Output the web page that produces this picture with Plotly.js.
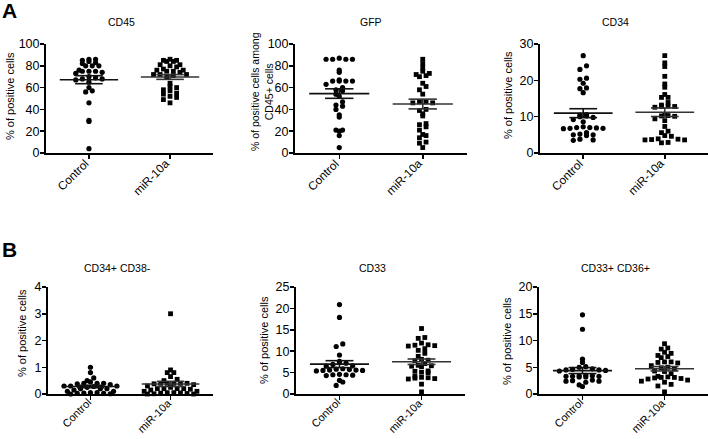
<!DOCTYPE html>
<html>
<head>
<meta charset="utf-8">
<script src="https://cdn.plot.ly/plotly-3.0.1.min.js"></script>
<style>
  body { margin: 0; background: #fff; }
  #chart { width: 708px; height: 439px; }
</style>
</head>
<body>
<div id="chart"></div>
<script>
// groups and panel labels
var groups = ['Control', 'miR-10a'];
var panelTitles = ['CD45', 'GFP', 'CD34', 'CD34+ CD38-', 'CD33', 'CD33+ CD36+'];
var yTitles = ['% of positive cells', '% of positive cells among<br>CD45+ cells', '% of positive cells',
               '% of positive cells', '% of positive cells', '% of positive cells'];
var yMax = [100, 100, 30, 4, 25, 20];
var yStep = [20, 20, 10, 1, 5, 5];

// values (% of positive cells)
var cd45Control = [86, 86, 84, 85, 83, 82, 80, 80, 80, 76, 75, 75, 75, 74, 73, 70, 69, 68, 68, 67, 65, 60, 57, 56, 46, 30, 29, 4];
var cd45Mir = [86, 85, 85, 84, 84, 81, 81, 80, 79, 77, 76, 76, 75, 75, 74, 72, 72, 72, 71, 70, 64, 61, 60, 58, 57, 55, 54, 52, 51, 49, 46];
var gfpControl = [87, 86, 86, 86, 86, 76, 74, 67, 66, 66, 66, 66, 63, 60, 58, 57, 54, 52, 47, 44, 43, 40, 35, 33, 21, 21, 20, 16, 5];
var gfpMir = [86, 82, 78, 75, 73, 72, 71, 70, 64, 61, 58, 54, 47, 47, 46, 46, 40, 39, 36, 34, 27, 26, 24, 21, 17, 16, 14, 10, 9, 5];
var cd34Control = [26.8, 24, 23, 20.6, 20.3, 19.2, 17.9, 17.7, 16.6, 10.6, 10.4, 10.2, 10, 9.8, 9.2, 8.6, 7.2, 7, 7, 6.9, 6.8, 6.8, 6.7, 5.6, 5.2, 5, 5, 4.8, 3.8, 3.6, 3.5];
var cd34Mir = [26.8, 24.8, 23.8, 21.1, 19, 18.1, 16.1, 15.3, 15.3, 13.9, 13.2, 12.9, 12.8, 12.8, 12.6, 10.4, 10.2, 10.1, 10.3, 9.4, 8.9, 7.3, 6, 5.6, 4.8, 4.6, 3.8, 3.6, 3.7, 3.6, 3.9, 2.9, 2.8];
var cd38Control = [1.0, 0.8, 0.6, 0.5, 0.45, 0.4, 0.4, 0.4, 0.38, 0.35, 0.3, 0.3, 0.3, 0.28, 0.25, 0.2, 0.2, 0.2, 0.15, 0.1, 0.1, 0.05, 0.05, 0.03, 0.02, 0.02, 0.01, 0.0];
var cd38Mir = [3.0, 0.9, 0.8, 0.8, 0.65, 0.55, 0.5, 0.4, 0.4, 0.4, 0.4, 0.4, 0.38, 0.35, 0.3, 0.25, 0.2, 0.2, 0.2, 0.2, 0.18, 0.15, 0.1, 0.1, 0.05, 0.05, 0.04, 0.03, 0.02, 0.01, 0.0, 0.0];
var cd33Control = [20.9, 17.9, 11.7, 11.1, 9.1, 7.6, 7.5, 7.2, 6.9, 6.6, 6.5, 5.9, 5.8, 5.7, 5.6, 5.6, 5.5, 5.5, 5.4, 4.6, 4.5, 4.5, 4.4, 4.3, 3.2, 2.8, 2.0];
var cd33Mir = [15.3, 13.2, 13.0, 11.9, 11.5, 11.4, 11.3, 11.2, 10.6, 10.2, 9.5, 8.8, 8.1, 7.9, 7.8, 7.1, 6.7, 6.6, 6.5, 6.4, 5.4, 5.3, 5.1, 5.0, 4.1, 3.9, 3.8, 3.7, 3.6, 3.5, 2.3, 0.5];
var cd36Control = [14.8, 12.1, 6.5, 5.9, 5.1, 5.0, 4.7, 4.6, 4.5, 4.5, 4.4, 4.3, 3.5, 3.4, 3.4, 3.3, 3.3, 3.3, 3.2, 3.2, 2.6, 2.5, 2.4, 2.4, 2.2, 1.7, 1.4];
var cd36Mir = [9.4, 8.6, 8.4, 7.8, 7.6, 7.2, 7.0, 6.8, 6.0, 6.0, 5.9, 5.8, 5.3, 5.0, 4.9, 4.7, 4.3, 4.2, 3.8, 3.3, 3.2, 3.1, 3.1, 3.0, 2.9, 2.8, 2.6, 2.4, 2.2, 1.8, 1.5, 0.4];

var panelData = [
  [cd45Control, cd45Mir], [gfpControl, gfpMir], [cd34Control, cd34Mir],
  [cd38Control, cd38Mir], [cd33Control, cd33Mir], [cd36Control, cd36Mir]
];

// plot boxes in pixels: [left, right, top, bottom]
var W = 708, H = 439;
var boxes = [
  [46, 213, 44, 153], [295, 467, 44, 153], [540, 708, 44, 153],
  [48, 213, 287, 394], [296, 465, 287, 394], [539, 708, 287, 394]
];
var xRange = [0.47, 2.53];
var font = 'Arial, "Liberation Sans", sans-serif';

// GraphPad style rows: points that fall in the same row are spread evenly about the centre
function rows(vals, pxY, pxX, rowH, gap) {
  var bins = {};
  vals.forEach(function (v, i) {
    var k = Math.round(v * pxY / rowH);
    (bins[k] = bins[k] || []).push(i);
  });
  var xs = new Array(vals.length);
  Object.keys(bins).forEach(function (k) {
    var idx = bins[k].sort(function (a, b) { return vals[a] - vals[b]; });
    var n = idx.length;
    idx.forEach(function (i, j) {
      // alternate sides so neighbours in value sit apart
      var slot = (j % 2 === 0) ? j / 2 : n - 1 - (j - 1) / 2;
      xs[i] = (slot - (n - 1) / 2) * gap / pxX;
    });
  });
  return xs;
}

function meanSem(vals) {
  var n = vals.length;
  var m = vals.reduce(function (a, b) { return a + b; }, 0) / n;
  var sd = Math.sqrt(vals.reduce(function (a, b) { return a + (b - m) * (b - m); }, 0) / (n - 1));
  return [m, sd / Math.sqrt(n)];
}

var data = [];
var layout = {
  width: W, height: H,
  margin: {l: 0, r: 0, t: 0, b: 0},
  paper_bgcolor: '#fff', plot_bgcolor: 'rgba(0,0,0,0)',
  showlegend: false,
  font: {family: font, color: '#000', size: 12},
  annotations: []
};

function ann(text, px, py, opts) {
  var a = {text: text, xref: 'paper', yref: 'paper', x: px / W, y: 1 - py / H,
           xanchor: 'center', yanchor: 'middle', showarrow: false, font: {size: 11, family: font, color: '#000'}};
  for (var k in opts) a[k] = opts[k];
  layout.annotations.push(a);
}

panelData.forEach(function (pair, p) {
  var b = boxes[p];
  var sfx = p === 0 ? '' : String(p + 1);
  var pxY = (b[3] - b[2]) / yMax[p];
  var pxX = (b[1] - b[0]) / (xRange[1] - xRange[0]);

  pair.forEach(function (vals, g) {
    var offs = rows(vals, pxY, pxX, 5, 6.6);
    data.push({
      type: 'scatter', mode: 'markers',
      x: offs.map(function (o) { return g + 1 + o; }), y: vals,
      xaxis: 'x' + sfx, yaxis: 'y' + sfx,
      marker: {symbol: g === 0 ? 'circle' : 'square', size: g === 0 ? 5.2 : 4.8, color: '#000'},
      cliponaxis: false, hoverinfo: 'y'
    });
    var ms = meanSem(vals), m = ms[0], s = ms[1], c = g + 1;
    data.push({
      type: 'scatter', mode: 'lines',
      x: [c - 0.36, c + 0.36, null, c - 0.17, c + 0.17, null, c - 0.17, c + 0.17, null, c, c],
      y: [m, m, null, m + s, m + s, null, m - s, m - s, null, m - s, m + s],
      xaxis: 'x' + sfx, yaxis: 'y' + sfx,
      line: {color: g === 0 ? '#111' : '#333', width: 1.6},
      cliponaxis: false, hoverinfo: 'skip'
    });

    // category label, rotated, ending just under its tick
    var tickPx = b[0] + (c - xRange[0]) * pxX;
    ann(groups[g], tickPx + 4, b[3] + (p < 3 ? 2 : 1), {textangle: -45, xanchor: 'right', yanchor: 'top',
        borderpad: 0, font: {size: p < 3 ? 11.8 : 11, family: font, color: '#000'}});
  });

  layout['xaxis' + sfx] = {
    domain: [b[0] / W, b[1] / W], anchor: 'y' + sfx,
    range: xRange, tickvals: [1, 2], showticklabels: false,
    showline: true, linecolor: '#000', linewidth: 2,
    ticks: 'outside', ticklen: 4, tickwidth: 1.5, tickcolor: '#000',
    showgrid: false, zeroline: false, fixedrange: true
  };
  layout['yaxis' + sfx] = {
    domain: [1 - b[3] / H, 1 - b[2] / H], anchor: 'x' + sfx,
    range: [0, yMax[p]], dtick: yStep[p], tick0: 0,
    showline: true, linecolor: '#000', linewidth: 2,
    ticks: 'outside', ticklen: 4, tickwidth: 1.5, tickcolor: '#000',
    ticklabelstandoff: -2,
    showgrid: false, zeroline: false, fixedrange: true,
    tickfont: {size: 12.5, family: font}
  };

  // panel title
  var tY = p < 3 ? 22 : 268;
  var tX = [121, 371, 615, 117, 372, 615][p];
  ann(panelTitles[p], tX, tY, {font: {size: 10.5, family: font, color: '#000'}});
  // y axis title
  var yx = [10, 262, 508, 22, 264, 507][p];
  var yy = [96, 92, 95, 333, 340, 341][p];
  ann(yTitles[p], yx, yy, {textangle: -90, font: {size: p === 1 ? 10.5 : 11, family: font, color: '#000'}});
});

// panel letters
ann('<b>A</b>', 9, 11, {borderpad: 0, font: {size: 21, family: font, color: '#000'}});
ann('<b>B</b>', 9, 249, {borderpad: 0, font: {size: 21, family: font, color: '#000'}});

Plotly.newPlot('chart', data, layout, {displayModeBar: false, staticPlot: true});
</script>
</body>
</html>
